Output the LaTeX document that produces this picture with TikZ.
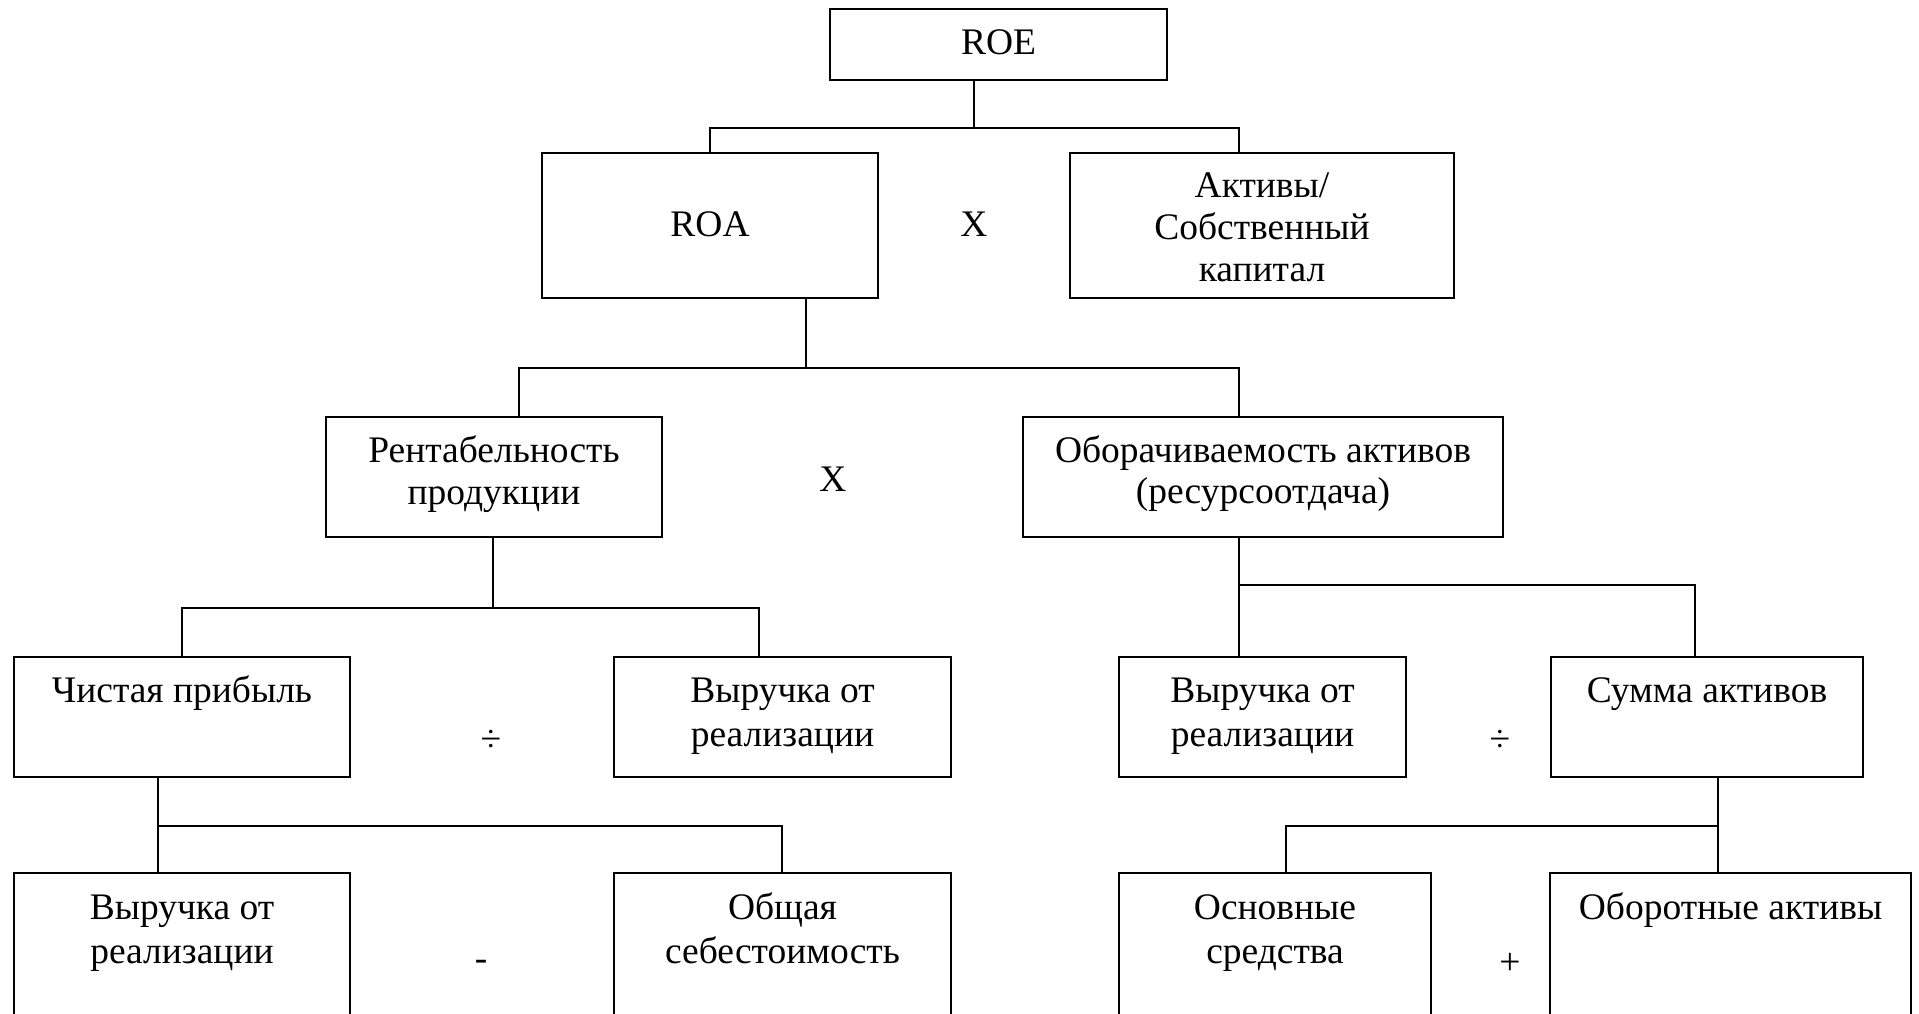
\documentclass[tikz,border=0pt]{standalone}
\usepackage{fontspec}
\setmainfont{Liberation Serif}
\newcommand\bxt[2]{\fontsize{37.5}{#1}\selectfont\setlength{\tabcolsep}{0pt}\begin{tabular}[t]{@{}c@{}}#2\end{tabular}}
\tikzset{
  bx/.style={draw=black, line width=2pt, rectangle, inner sep=0pt, fill=none},
  lbl/.style={anchor=base, inner sep=0pt},
  opr/.style={anchor=base, inner sep=0pt, font=\fontsize{37.5}{42}\selectfont},
  conn/.style={draw=black, line width=1.3pt}
}
\begin{document}
\begin{tikzpicture}[x=1pt,y=-1pt]
\useasboundingbox (0,0) rectangle (1919,1014);
\fill[white] (0,0) rectangle (1919,1014);
\clip (0,0) rectangle (1919,1014);
% boxes
\node[bx, minimum width=337pt, minimum height=71pt] (roe) at (998.5,44.5) {};
\node[bx, minimum width=336pt, minimum height=145pt] (roa) at (710,225.5) {};
\node[bx, minimum width=384pt, minimum height=145pt] (akt) at (1262,225.5) {};
\node[bx, minimum width=336pt, minimum height=120pt] (rent) at (494,477) {};
\node[bx, minimum width=480pt, minimum height=120pt] (obor) at (1263,477) {};
\node[bx, minimum width=336pt, minimum height=120pt] (chist) at (182,717) {};
\node[bx, minimum width=337pt, minimum height=120pt] (vyr1) at (782.5,717) {};
\node[bx, minimum width=287pt, minimum height=120pt] (vyr2) at (1262.5,717) {};
\node[bx, minimum width=312pt, minimum height=120pt] (summa) at (1707,717) {};
\node[bx, minimum width=336pt, minimum height=200pt] (vyr3) at (182,973) {};
\node[bx, minimum width=337pt, minimum height=200pt] (obsh) at (782.5,973) {};
\node[bx, minimum width=312pt, minimum height=200pt] (osn) at (1275,973) {};
\node[bx, minimum width=361pt, minimum height=200pt] (oborotn) at (1730.5,973) {};
% texts
\node[lbl] (t-roe) at (998.5,55) {\bxt{42}{ROE}};
\node[lbl] (t-roa) at (710,236) {\bxt{42}{ROA}};
\node[lbl] (t-akt) at (1262,197) {\bxt{42}{Активы/\\Собственный\\капитал}};
\node[lbl] (t-rent) at (494,462) {\bxt{42}{Рентабельность\\продукции}};
\node[lbl] (t-obor) at (1263,462) {\bxt{41}{Оборачиваемость активов\\(ресурсоотдача)}};
\node[lbl] (t-chist) at (182,702) {\bxt{44}{Чистая прибыль}};
\node[lbl] (t-vyr1) at (782.5,702) {\bxt{44}{Выручка от\\реализации}};
\node[lbl] (t-vyr2) at (1262.5,702) {\bxt{44}{Выручка от\\реализации}};
\node[lbl] (t-summa) at (1707,702) {\bxt{44}{Сумма активов}};
\node[lbl] (t-vyr3) at (182,919) {\bxt{44}{Выручка от\\реализации}};
\node[lbl] (t-obsh) at (782.5,919) {\bxt{44}{Общая\\себестоимость}};
\node[lbl] (t-osn) at (1275,919) {\bxt{44}{Основные\\средства}};
\node[lbl] (t-oborotn) at (1730.5,919) {\bxt{44}{Оборотные активы}};
% operators
\node[opr] (op1) at (974,236) {X};
\node[opr] (op2) at (833,491) {X};
\node[opr] (op3) at (491,751) {÷};
\node[opr] (op4) at (1500,751) {÷};
\node[opr] (op5) at (481,970) {-};
\node[opr] (op6) at (1510,974) {+};
% junctions
\coordinate (j1m) at (974,128);
\coordinate (j1a) at (710,128);
\coordinate (j1b) at (1239,128);
\coordinate (j2m) at (806,368);
\coordinate (j2a) at (519,368);
\coordinate (j2b) at (1239,368);
\coordinate (j3m) at (493,608);
\coordinate (j3a) at (182,608);
\coordinate (j3b) at (759,608);
\coordinate (j4a) at (1239,585);
\coordinate (j4b) at (1695,585);
\coordinate (j5a) at (158,826);
\coordinate (j5b) at (782,826);
\coordinate (j6a) at (1286,826);
\coordinate (j6b) at (1718,826);
% connectors
\draw[conn] (roe.south -| j1m) -- (j1m);
\draw[conn] (roa.north -| j1a) -- (j1a) -- (j1b) -- (akt.north -| j1b);
\draw[conn] (roa.south -| j2m) -- (j2m);
\draw[conn] (rent.north -| j2a) -- (j2a) -- (j2b) -- (obor.north -| j2b);
\draw[conn] (rent.south -| j3m) -- (j3m);
\draw[conn] (chist.north -| j3a) -- (j3a) -- (j3b) -- (vyr1.north -| j3b);
\draw[conn] (obor.south -| j4a) -- (j4a) -- (j4b) -- (summa.north -| j4b);
\draw[conn] (j4a) -- (vyr2.north -| j4a);
\draw[conn] (chist.south -| j5a) -- (j5a) -- (j5b) -- (obsh.north -| j5b);
\draw[conn] (j5a) -- (vyr3.north -| j5a);
\draw[conn] (summa.south -| j6b) -- (j6b) -- (j6a) -- (osn.north -| j6a);
\draw[conn] (j6b) -- (oborotn.north -| j6b);
\end{tikzpicture}
\end{document}
